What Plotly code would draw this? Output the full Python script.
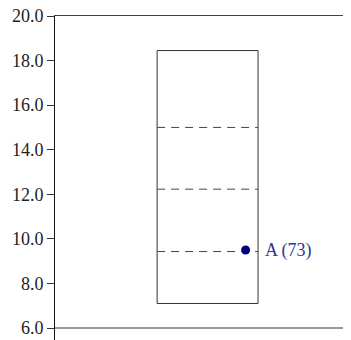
import plotly.graph_objects as go

# Data
y_ticks = [6.0, 8.0, 10.0, 12.0, 14.0, 16.0, 18.0, 20.0]
tick_labels = ["6.0", "8.0", "10.0", "12.0", "14.0", "16.0", "18.0", "20.0"]
range_low = 7.1
range_high = 18.45
quantile_lines = [9.43, 12.23, 15.0]
point_names = ["A (73)"]
point_values = [9.5]

# Layout constants (positions on x axis 0..1)
BX0, BX1 = 0.345, 0.686
PX = 0.644
SERIF = "Liberation Serif"

fig = go.Figure()

# box outline
fig.add_trace(go.Scatter(
    x=[BX0, BX0, BX1, BX1, BX0],
    y=[range_low, range_high, range_high, range_low, range_low],
    mode="lines", line=dict(color="#333333", width=1),
    hoverinfo="skip", showlegend=False))

# dashed quantile lines
for q in quantile_lines:
    fig.add_trace(go.Scatter(
        x=[BX0, BX1], y=[q, q], mode="lines",
        line=dict(color="#444444", width=1, dash="8px,6px"),
        hoverinfo="skip", showlegend=False))

# point
fig.add_trace(go.Scatter(
    x=[PX] * len(point_values), y=point_values, mode="markers",
    marker=dict(color="#000080", size=9),
    hoverinfo="skip", showlegend=False))

for name, val in zip(point_names, point_values):
    fig.add_annotation(x=PX, y=val, text=name, showarrow=False,
                       xanchor="left", yanchor="middle", xshift=17,
                       font=dict(family=SERIF, size=18, color="#333399"))

# bottom line at minimum tick
fig.add_shape(type="line", xref="paper", yref="y", x0=0, x1=1,
              y0=y_ticks[0], y1=y_ticks[0], line=dict(color="#333333", width=1))

fig.update_layout(
    width=343, height=332,
    margin=dict(l=47, r=0, t=8, b=0, pad=0, autoexpand=False),
    plot_bgcolor="white", paper_bgcolor="white",
    font=dict(family=SERIF, size=18, color="#222222"),
    xaxis=dict(range=[0, 1], side="top", showline=True, linecolor="#444444", linewidth=1,
               showgrid=False, zeroline=False, showticklabels=False, ticks="",
               automargin=False),
    yaxis=dict(range=[5.4615, 20], tickvals=y_ticks, ticktext=tick_labels,
               showline=True, linecolor="#111111", linewidth=1,
               ticks="outside", ticklen=7, tickcolor="#333333",
               ticklabelstandoff=0, automargin=False, ticklabeloverflow="allow",
               showgrid=False, zeroline=False),
)

fig.write_html("out.html")
